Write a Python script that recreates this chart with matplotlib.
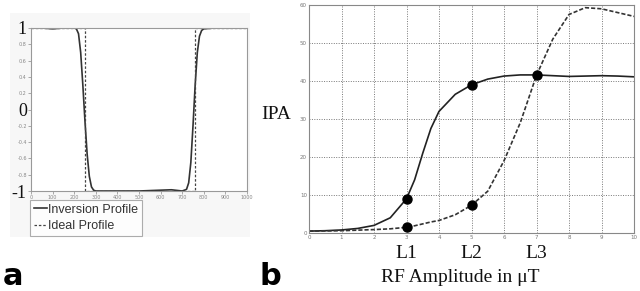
import matplotlib
matplotlib.use("Agg")
import matplotlib.pyplot as plt
from matplotlib.patches import Rectangle

# ---- Panel a data ----
pos_a = [0, 50, 100, 150, 200, 210, 220, 230, 240, 250, 260, 270, 280, 290, 300,
         400, 500, 600, 650, 700, 720, 730, 740, 750, 760, 770, 780, 790, 800, 850, 900, 1000]
inv_a = [1.0, 1.0, 0.99, 1.0, 1.0, 0.99, 0.93, 0.7, 0.3, -0.15, -0.55, -0.82, -0.95, -0.99, -1.0,
         -1.0, -1.0, -0.99, -0.985, -1.0, -0.98, -0.9, -0.65, -0.2, 0.3, 0.7, 0.9, 0.97, 0.99, 1.0, 1.0, 1.0]
ideal_pos = [0, 250, 250, 760, 760, 1000]
ideal_val = [1, 1, -1, -1, 1, 1]
xt_a = [0, 100, 200, 300, 400, 500, 600, 700, 800, 900, 1000]
yt_a = [-1, -0.8, -0.6, -0.4, -0.2, 0, 0.2, 0.4, 0.6, 0.8, 1]
yt_a_labels = ["-1", "-0.8", "-0.6", "-0.4", "-0.2", "0", "0.2", "0.4", "0.6", "0.8", "1"]

# ---- Panel b data ----
rf = [0, 0.5, 1, 1.5, 2, 2.5, 3, 3.25, 3.5, 3.75, 4, 4.5, 5, 5.5, 6, 6.5, 7, 7.5, 8, 8.5, 9, 9.5, 10]
ipa_solid = [0.5, 0.6, 0.8, 1.2, 2.0, 4.0, 9.0, 14.0, 21.0, 27.5, 32.0, 36.5, 39.0, 40.5, 41.3, 41.6,
             41.6, 41.4, 41.2, 41.3, 41.4, 41.3, 41.1]
ipa_dashed = [0.5, 0.55, 0.6, 0.75, 0.9, 1.1, 1.5, 1.9, 2.4, 2.9, 3.3, 4.8, 7.3, 11.0, 19.0, 29.0,
              41.5, 51.0, 57.5, 59.3, 59.0, 58.0, 57.0]
dots_x = [3, 5, 7, 3, 5]
dots_y = [9.0, 39.0, 41.6, 1.5, 7.3]
level_x = [3, 5, 7]
level_labels = ["L1", "L2", "L3"]

fig = plt.figure(figsize=(6.4, 2.91), dpi=100)
W, H = 640, 291

def fr(x0, y0, x1, y1):
    return [x0 / W, 1 - y1 / H, (x1 - x0) / W, (y1 - y0) / H]

# light background for panel a
fig.patches.append(Rectangle((10 / W, 1 - 237 / H), 240 / W, 224 / H,
                             transform=fig.transFigure, facecolor="#f7f7f7",
                             edgecolor="none", zorder=-5))

serif = "Liberation Serif"

axa = fig.add_axes(fr(31, 28, 247, 191))
axa.plot(pos_a, inv_a, color="#333333", lw=1.2, label="Inversion Profile")
axa.plot(ideal_pos, ideal_val, color="#444444", lw=0.9, ls=(0, (2, 1.5)), label="Ideal Profile")
axa.set_xlim(0, 1000)
axa.set_ylim(-1, 1)
axa.set_xticks(xt_a)
axa.set_xticklabels([str(v) for v in xt_a], fontsize=3.5, color="#777777")
axa.set_yticks(yt_a)
axa.set_yticklabels(yt_a_labels, fontsize=3.5, color="#777777")
axa.tick_params(length=2, width=0.5, pad=1, colors="#888888")
for lab in axa.get_yticklabels():
    if lab.get_text() in ("-1", "0", "1"):
        lab.set_fontsize(13)
        lab.set_fontfamily(serif)
        lab.set_color("#111111")
for s in axa.spines.values():
    s.set_color("#999999")
    s.set_linewidth(0.8)
axa.set_facecolor("white")
leg = axa.legend(loc="upper left", bbox_to_anchor=(-0.003, -0.055),
                 prop={"family": "Liberation Sans", "size": 9},
                 frameon=True, fancybox=False, handlelength=1.0, handletextpad=0.15,
                 borderpad=0.3, labelspacing=0.35, borderaxespad=0)
leg.get_frame().set_edgecolor("#999999")
leg.get_frame().set_linewidth(0.8)
for t in leg.get_texts():
    t.set_color("#333333")

fig.text(3 / W, 1 - 285 / H, "a", fontsize=22, fontweight="bold", ha="left", va="baseline",
         family="DejaVu Sans")

# panel b
axb = fig.add_axes(fr(309, 5, 634, 233))
axb.plot(rf, ipa_solid, color="#222222", lw=1.2)
axb.plot(rf, ipa_dashed, color="#333333", lw=1.2, ls=(0, (2.5, 1.2)))
axb.plot(dots_x, dots_y, "o", color="black", ms=6.5)
axb.set_xlim(0, 10)
axb.set_ylim(0, 60)
axb.set_xticks(range(0, 11))
axb.set_xticklabels([str(v) for v in range(0, 11)], fontsize=4, color="#777777")
axb.set_yticks(range(0, 61, 10))
axb.set_yticklabels([str(v) for v in range(0, 61, 10)], fontsize=4, color="#777777")
axb.tick_params(length=0, pad=1.5)
axb.grid(True, color="#777777", ls=(0, (1, 1.5)), lw=0.7)
for s in axb.spines.values():
    s.set_color("#888888")
    s.set_linewidth(0.8)

for lx, ll in zip(level_x, level_labels):
    axb.text(lx, -0.09, ll, transform=axb.get_xaxis_transform(), ha="center", va="center",
             fontsize=14, family=serif, color="#111111")
axb.text(0.465, -0.195, "RF Amplitude in \u03bcT", transform=axb.transAxes, ha="center",
         va="center", fontsize=14, family=serif, color="#111111")
fig.text(276 / W, 1 - 115 / H, "IPA", fontsize=14, family=serif, ha="center", va="center",
         color="#111111")
fig.text(260 / W, 1 - 285 / H, "b", fontsize=22, fontweight="bold", ha="left", va="baseline",
         family="DejaVu Sans")

fig.savefig("out.png", dpi=100)
